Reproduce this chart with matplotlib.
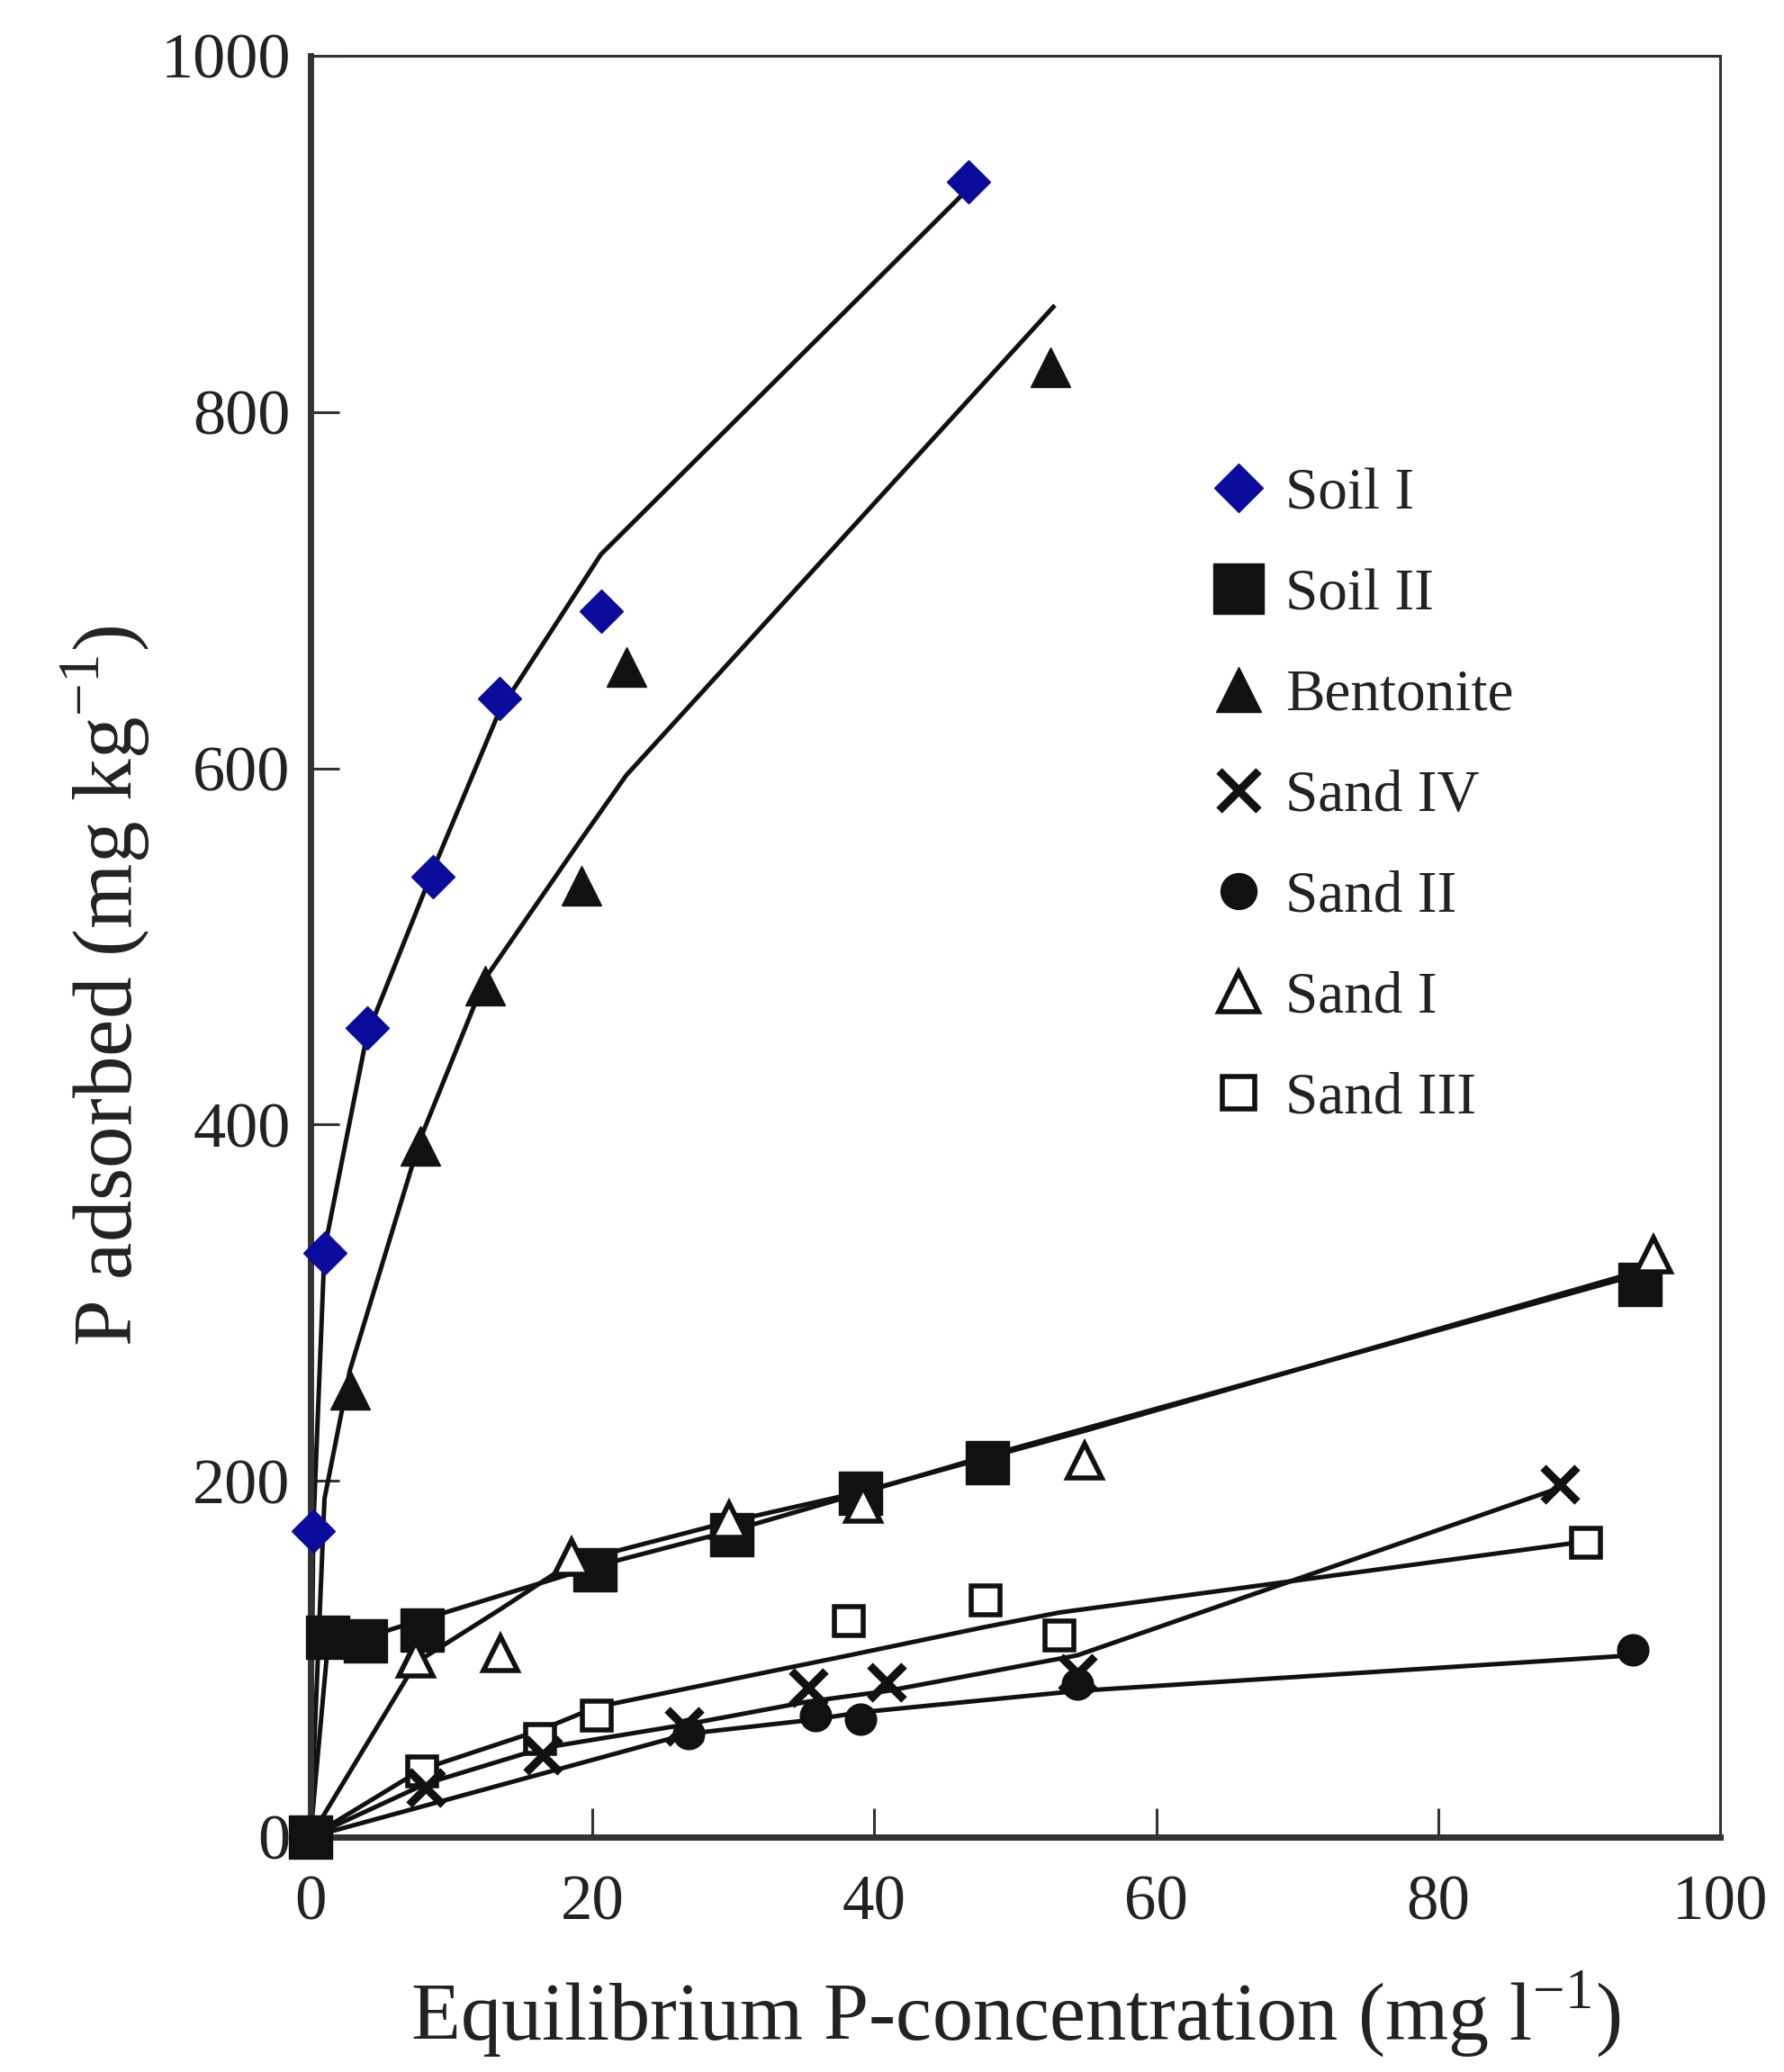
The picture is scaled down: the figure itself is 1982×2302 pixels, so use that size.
import matplotlib
matplotlib.use("Agg")
import matplotlib.pyplot as plt
from matplotlib.lines import Line2D

plt.rcParams['font.family'] = ['Liberation Serif', 'DejaVu Serif']
plt.rcParams['mathtext.fontset'] = 'custom'
plt.rcParams['mathtext.rm'] = 'Liberation Serif'

# ---- measured isotherm points ----
soil1_x = [0.2, 1.0, 4.0, 8.7, 13.4, 20.6, 46.7]
soil1_y = [172, 328, 454, 539, 639, 688, 929]
soil1_fit_x = [0, 0.2, 1.0, 4.0, 8.7, 13.4, 20.6, 46.5]
soil1_fit_y = [0, 172, 330, 450, 543, 632, 720, 924]

bent_x = [2.8, 7.8, 12.4, 19.2, 22.4, 52.5]
bent_y = [251, 388, 478, 534, 657, 825]
bent_fit_x = [0, 1.0, 2.8, 7.8, 12.4, 19.2, 22.4, 52.7]
bent_fit_y = [0, 190, 262, 392, 482, 560, 596, 859]

soil2_x = [0, 1.2, 3.9, 7.9, 20.2, 29.9, 39.0, 48.0, 94.3]
soil2_y = [0, 112, 110, 116, 150, 170, 193, 210, 310]
soil2_fit_x = [0, 1.2, 3.9, 7.9, 20.2, 29.9, 39.0, 48.0, 94.3]
soil2_fit_y = [0, 105, 112, 122, 152, 172, 193, 214, 316]

sand1_x = [7.5, 13.5, 18.5, 29.7, 39.2, 54.9, 95.3]
sand1_y = [100, 103, 157, 178, 187, 211, 327]
sand1_fit_x = [0, 7.5, 13.5, 18.5, 29.7, 39.2, 54.9, 95.3]
sand1_fit_y = [0, 98, 128, 154, 177, 194, 228, 320]

sand4_x = [8.2, 16.5, 26.5, 35.3, 40.9, 54.4, 88.6]
sand4_y = [28, 46, 62, 84, 87, 92, 198]
sand4_fit_x = [0, 8.2, 16.5, 26.5, 35.3, 40.9, 54.4, 88.6]
sand4_fit_y = [0, 30, 50, 63, 76, 82, 102, 196]

sand2_x = [26.8, 35.8, 39.0, 54.4, 93.8]
sand2_y = [58, 68, 66, 86, 105]
sand2_fit_x = [0, 26.8, 35.8, 39.0, 54.4, 93.8]
sand2_fit_y = [0, 58, 66, 70, 82, 102]

sand3_x = [0, 7.9, 16.3, 20.3, 38.2, 47.9, 53.1, 90.5]
sand3_y = [0, 37, 55, 68, 121, 133, 113, 165]
sand3_fit_x = [0, 7.9, 16.3, 20.3, 38.2, 47.9, 53.1, 90.5]
sand3_fit_y = [0, 38, 60, 73, 102, 118, 126, 166]

x_ticks = [0, 20, 40, 60, 80, 100]
y_ticks = [0, 200, 400, 600, 800, 1000]

BLUE = '#0b0b9c'
INK = '#111111'

fig = plt.figure(figsize=(19.82, 23.02), dpi=100)
ax = fig.add_axes([0.174, 0.1134, 0.7902, 0.8597])

# fitted curves
for fx, fy in [(soil1_fit_x, soil1_fit_y), (bent_fit_x, bent_fit_y),
               (soil2_fit_x, soil2_fit_y), (sand1_fit_x, sand1_fit_y),
               (sand4_fit_x, sand4_fit_y), (sand2_fit_x, sand2_fit_y),
               (sand3_fit_x, sand3_fit_y)]:
    ax.plot(fx, fy, color=INK, lw=3.6, zorder=2, solid_joinstyle='round')

# marker styles per material
styles = {
    'Soil I':    dict(marker='D', ms=24, mfc=BLUE, mec=BLUE, mew=1),
    'Soil II':   dict(marker='s', ms=35, mfc=INK, mec=INK, mew=1),
    'Bentonite': dict(marker='^', ms=31, mfc=INK, mec=INK, mew=1),
    'Sand IV':   dict(marker='x', ms=28, mfc=INK, mec=INK, mew=6.5),
    'Sand II':   dict(marker='o', ms=25, mfc=INK, mec=INK, mew=1),
    'Sand I':    dict(marker='^', ms=27, mfc='white', mec=INK, mew=4),
    'Sand III':  dict(marker='s', ms=23, mfc='white', mec=INK, mew=4),
}
series = [
    ('Sand III', sand3_x, sand3_y),
    ('Sand II', sand2_x, sand2_y),
    ('Sand IV', sand4_x, sand4_y),
    ('Soil II', soil2_x, soil2_y),
    ('Sand I', sand1_x, sand1_y),
    ('Bentonite', bent_x, bent_y),
    ('Soil I', soil1_x, soil1_y),
]
for name, xs, ys in series:
    ax.plot(xs, ys, linestyle='none', zorder=3, clip_on=False, **styles[name])

ax.set_xlim(0, 100)
ax.set_ylim(0, 1000)
ax.set_xticks(x_ticks)
ax.set_yticks(y_ticks)
ax.tick_params(axis='both', direction='in', length=23, width=2.2, color='#333333')
ax.tick_params(axis='x', labelsize=51, pad=30, labelcolor='#222222')
ax.tick_params(axis='y', labelsize=52, pad=16, labelcolor='#222222')

for side in ['left', 'bottom']:
    ax.spines[side].set_linewidth(5)
    ax.spines[side].set_color('#333333')
for side in ['top', 'right']:
    ax.spines[side].set_linewidth(2.2)
    ax.spines[side].set_color('#333333')

ax.set_xlabel(r'Equilibrium P-concentration (mg l$^{\mathregular{-1}}$)',
              fontsize=65, color='#222222')
ax.xaxis.set_label_coords(0.5, -0.074)
ax.set_ylabel(r'P adsorbed (mg kg$^{\mathregular{-1}}$)',
              fontsize=67, color='#222222')
ax.yaxis.set_label_coords(-0.112, 0.478)

order = ['Soil I', 'Soil II', 'Bentonite', 'Sand IV', 'Sand II', 'Sand I', 'Sand III']
handles = [Line2D([], [], linestyle='none', **styles[n]) for n in order]
leg = ax.legend(handles, order, loc='upper left', bbox_to_anchor=(0.621, 0.782),
                frameon=False, fontsize=47, handlelength=1.0, handletextpad=0.3,
                labelspacing=0.8, borderaxespad=0, markerscale=1.15)
for t in leg.get_texts():
    t.set_color('#222222')

fig.savefig('out.png', dpi=100, facecolor='white')
